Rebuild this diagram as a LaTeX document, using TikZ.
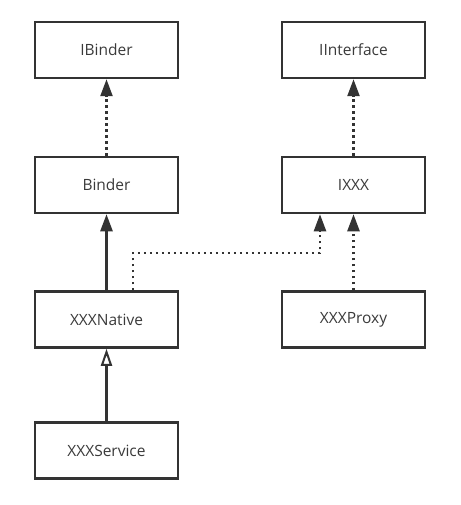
\documentclass[tikz,border=0pt]{standalone}
\usepackage{fontspec}
\setmainfont{Open Sans}
\usetikzlibrary{arrows.meta}
\definecolor{ln}{HTML}{333333}
\definecolor{tx}{HTML}{3a3a3a}
\begin{document}
\begin{tikzpicture}[x=1pt,y=-1pt,
  box/.style={draw=ln,line width=2.5pt,minimum width=143pt,minimum height=56pt,inner sep=0pt,text=tx,font=\fontsize{15.5}{17}\selectfont},
  solidarr/.style={draw=ln,line width=2.5pt,-{Triangle[length=17pt,width=12pt]}},
  openarr/.style={draw=ln,line width=2.5pt,-{Triangle[open,length=17pt,width=11pt,line width=2pt]}},
  dotarr/.style={draw=ln,line width=2.4pt,dash pattern=on 2.4pt off 3.6pt,-{Triangle[length=17pt,width=12pt,sep=0pt]}}]
\useasboundingbox (0,0) rectangle (460,505);
\node[box] (ibinder) at (106.5,50) {IBinder};
\node[box] (iinterface) at (353.5,50) {IInterface};
\node[box] (binder) at (106.5,185) {Binder};
\node[box] (ixxx) at (353.5,185) {IXXX};
\node[box] (native) at (106.5,319.5) {XXXNative};
\node[box] (proxy) at (353.5,319.5) {XXXProxy};
\node[box] (service) at (106.5,450.5) {XXXService};
\coordinate (c1) at (133,253);
\coordinate (c2) at (320,253);
\draw[dotarr] (binder.north) -- (ibinder.south);
\draw[dotarr] (ixxx.north) -- (iinterface.south);
\draw[solidarr] (native.north) -- (binder.south);
\draw[dotarr] (proxy.north) -- (ixxx.south);
\draw[dotarr] (native.north -| c1) -- (c1) -- (c2) -- (ixxx.south -| c2);
\draw[openarr] (service.north) -- (native.south);
\end{tikzpicture}
\end{document}
